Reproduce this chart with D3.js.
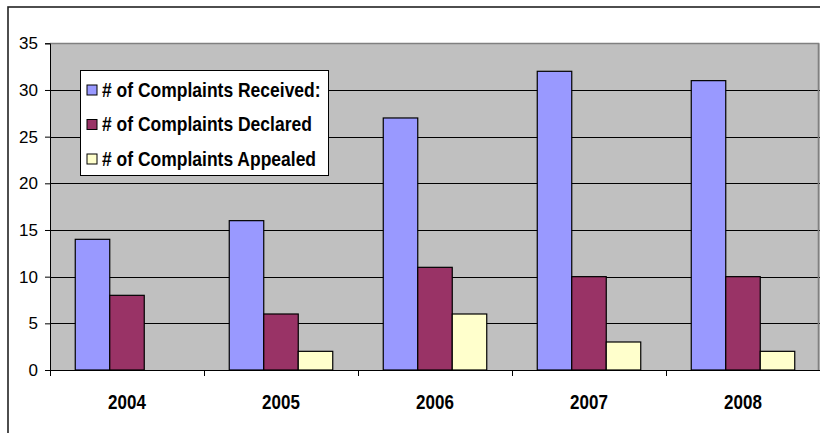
<!DOCTYPE html>
<html><head><meta charset="utf-8">
<script src="https://cdn.jsdelivr.net/npm/d3@7"></script>
<style>html,body{margin:0;padding:0;background:#fff;overflow:hidden;width:820px;height:433px}svg{display:block;font-family:Arial,"Liberation Sans",sans-serif}</style>
</head><body><svg id="c" width="820" height="433" viewBox="0 0 820 433"></svg>
<script>
const years = ["2004","2005","2006","2007","2008"];
const seriesNames = ["# of Complaints Received:","# of Complaints Declared","# of Complaints Appealed"];
const received = [14,16,27,32,31];
const declared = [8,6,11,10,10];
const appealed = [0,2,6,3,2];
const yTicks = [0,5,10,15,20,25,30,35];
const colors = ["#9999FF","#993366","#FFFFCC"];

const svg = d3.select("#c");
const L = 50, R = 820, T = 43.3, B = 370;
const x = d3.scaleBand().domain(years).range([L, R]).paddingInner(0).paddingOuter(0);
const xs = d3.scaleBand().domain([0,1,2]).range([0, x.bandwidth()]).paddingInner(0).paddingOuter(0.732);
const y = d3.scaleLinear().domain([0,35]).range([B, T]);

// outer border
svg.append("rect").attr("x",8).attr("y",7).attr("width",900).attr("height",500)
  .attr("fill","#fff").attr("stroke","#222").attr("stroke-width",1.6);

// plot area
svg.append("rect").attr("x",L).attr("y",T).attr("width",R-L).attr("height",B-T)
  .attr("fill","#C0C0C0");

// gridlines
svg.append("g").selectAll("line").data(yTicks.filter(d=>d>0 && d<35)).join("line")
  .attr("x1",L).attr("x2",R).attr("y1",d=>Math.round(y(d))+0.5).attr("y2",d=>Math.round(y(d))+0.5)
  .attr("stroke","#000").attr("stroke-width",1);
// plot border (top and right, gray)
svg.append("path").attr("d",`M${L},${Math.round(T)+0.5}H${R-1.5}V${B}`)
  .attr("fill","none").attr("stroke","#808080").attr("stroke-width",1.6);

// bars
const data = [received, declared, appealed];
const g = svg.append("g");
years.forEach((yr,i)=>{
  data.forEach((s,k)=>{
    if (s[i] <= 0) return;
    g.append("rect")
      .attr("x", x(yr)+xs(k))
      .attr("y", y(s[i]))
      .attr("width", xs.bandwidth())
      .attr("height", y(0)-y(s[i]))
      .attr("fill", colors[k]).attr("stroke","#000").attr("stroke-width",1.2);
  });
});

// y axis
const yAxis = d3.axisLeft(y).tickValues(yTicks).tickSize(5).tickPadding(7).tickFormat(d3.format("d"));
const ya = svg.append("g").attr("transform",`translate(${L},0)`).call(yAxis);
ya.select(".domain").attr("stroke","#000");
ya.selectAll("text").attr("font-size","17px").attr("fill","#000").attr("font-family","Arial, 'Liberation Sans', sans-serif");

// x axis
const xAxis = d3.axisBottom(x).tickSize(0).tickFormat("");
const xa = svg.append("g").attr("transform",`translate(0,${B})`).call(xAxis);
xa.select(".domain").attr("stroke","#000");
// category boundary ticks
svg.append("g").selectAll("line").data(years.concat(["end"])).join("line")
  .attr("x1",(d,i)=>Math.round(L + i*x.step())+0.5).attr("x2",(d,i)=>Math.round(L + i*x.step())+0.5)
  .attr("y1",B).attr("y2",B+6).attr("stroke","#000");
svg.append("g").selectAll("text").data(years).join("text")
  .attr("transform",d=>`translate(${x(d)+x.bandwidth()/2},${409}) scale(1,1.15)`)
  .attr("text-anchor","middle").attr("font-size","17px").attr("font-weight","bold").text(d=>d);

// legend
const lg = svg.append("g");
lg.append("rect").attr("x",80.5).attr("y",70.5).attr("width",248).attr("height",105)
  .attr("fill","#fff").attr("stroke","#000");
const rowY = [90, 124.5, 159];
seriesNames.forEach((n,k)=>{
  lg.append("rect").attr("x",87).attr("y",rowY[k]-5).attr("width",10).attr("height",10)
    .attr("fill",colors[k]).attr("stroke","#000");
  lg.append("text").attr("transform",`translate(102,${rowY[k]+6.5}) scale(1,1.12)`)
    .attr("font-size","17.5px").attr("font-weight","bold").text(n);
});
</script></body></html>
